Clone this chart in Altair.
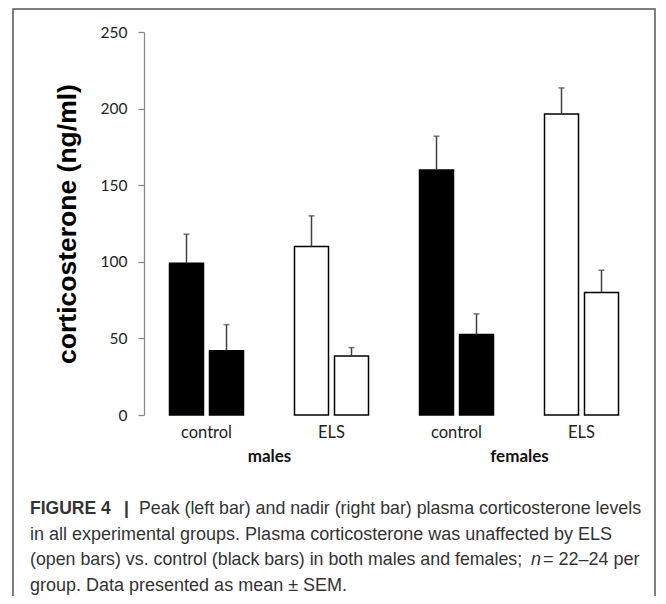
import altair as alt
import pandas as pd

# ---- data ----
sexes = ["males", "males", "females", "females"]
conditions = ["control", "ELS", "control", "ELS"]
peak_mean = [99, 110, 160, 196.5]
peak_sem = [19, 20, 22, 17]
nadir_mean = [42, 38.5, 52.5, 80]
nadir_sem = [17, 5.5, 13.5, 14.5]
y_ticks = [0, 50, 100, 150, 200, 250]
sex_labels = ["males", "females"]

keys = [f"{s}_{c}" for s, c in zip(sexes, conditions)]
rows = []
for k, s, c, pm, ps, nm, ns in zip(keys, sexes, conditions, peak_mean, peak_sem, nadir_mean, nadir_sem):
    rows.append({"key": k, "sex": s, "cond": c, "bar": "peak", "mean": pm, "upper": pm + ps})
    rows.append({"key": k, "sex": s, "cond": c, "bar": "nadir", "mean": nm, "upper": nm + ns})
df = pd.DataFrame(rows)

W, H = 500, 383
LABEL_FONT = "Lato"
CAP_FONT = "Liberation Sans"

x_enc = alt.X("key:N", sort=keys,
              scale=alt.Scale(paddingInner=0.408, paddingOuter=0.204),
              axis=alt.Axis(title=None, labelExpr="split(datum.value, '_')[1]",
                            labelAngle=0, domain=False, ticks=False,
                            labelPadding=9, labelFont=LABEL_FONT, labelFontSize=16.5,
                            labelColor="#222222"))
xoff = alt.XOffset("bar:N", sort=["peak", "nadir"],
                   scale=alt.Scale(paddingInner=0.15, paddingOuter=0))
y_scale = alt.Scale(domain=[0, 250], nice=False)

base = alt.Chart(df)

bars = base.mark_bar(stroke="black", strokeWidth=1.5).encode(
    x=x_enc,
    xOffset=xoff,
    y=alt.Y("mean:Q", scale=y_scale,
            axis=alt.Axis(values=y_ticks, title="corticosterone (ng/ml)", grid=False,
                          domainColor="#8a8a8a", domainWidth=1.3, tickColor="#8a8a8a",
                          tickSize=6, tickWidth=1.3, labelPadding=11,
                          labelFont=LABEL_FONT, labelFontSize=15.5, labelColor="#222222",
                          titleFont="Liberation Sans", titleFontSize=26.5, titleFontWeight="bold",
                          titleColor="black", titleAngle=270, titleX=-77, titleY=H / 2,
                          titleAlign="center", titleBaseline="middle")),
    fill=alt.Fill("cond:N", scale=alt.Scale(domain=["control", "ELS"], range=["black", "white"]),
                  legend=None),
)

err = base.mark_rule(color="#404040", strokeWidth=1.5).encode(
    x=alt.X("key:N", sort=keys), xOffset=alt.XOffset("bar:N", sort=["peak", "nadir"]),
    y="mean:Q", y2="upper:Q")

caps = base.mark_tick(color="#404040", thickness=1.5, size=6).encode(
    x=alt.X("key:N", sort=keys), xOffset=alt.XOffset("bar:N", sort=["peak", "nadir"]),
    y="upper:Q")

sex_df = pd.DataFrame({"sex": sex_labels, "key": ["males_control", "females_control"]})
sex_text = alt.Chart(sex_df).mark_text(font=LABEL_FONT, fontSize=17, fontWeight="bold",
                                       color="#111111", dx=63, baseline="middle").encode(
    x=alt.X("key:N", sort=keys), y=alt.value(H + 42), text="sex:N")

one = pd.DataFrame({"a": [0]})
frame = alt.Chart(one).mark_rect(fill=None, stroke="#555555", strokeWidth=1.5).encode(
    x=alt.value(-131), x2=alt.value(511), y=alt.value(-23), y2=alt.value(620))

cap_color = "#333333"
cap_parts = [
    # text, x, y, weight, style, align, size
    ("FIGURE 4", -114, 477, "bold", "normal", "left", 17.5),
    ("|", -17.5, 477, "bold", "normal", "center", 17.5),
    ("Peak (left bar) and nadir (right bar) plasma corticosterone levels", -5, 477, "normal", "normal", "left", 17.8),
    ("in all experimental groups. Plasma corticosterone was unaffected by ELS", -114, 503, "normal", "normal", "left", 18),
    ("(open bars) vs. control (black bars) in both males and females;", -114, 528, "normal", "normal", "left", 17.8),
    ("n", 387, 528, "normal", "italic", "left", 18),
    ("= 22–24 per", 399, 528, "normal", "normal", "left", 18),
    ("group. Data presented as mean ± SEM.", -114, 554, "normal", "normal", "left", 18),
]
cap_layers = []
for t, x, y, w, st, al, fs in cap_parts:
    cap_layers.append(
        alt.Chart(one).mark_text(text=t, font=CAP_FONT, fontSize=fs, fontWeight=w, fontStyle=st,
                                 align=al, baseline="middle", color=cap_color).encode(
            x=alt.value(x), y=alt.value(y)))

chart = alt.layer(frame, bars, err, caps, sex_text, *cap_layers).properties(
    width=W, height=H,
    autosize=alt.AutoSizeParams(type="none"),
    padding={"left": 136, "top": 24, "right": 14, "bottom": 181},
).configure_view(stroke=None)

chart.save("out.html", embed_options={"renderer": "svg", "actions": False})
